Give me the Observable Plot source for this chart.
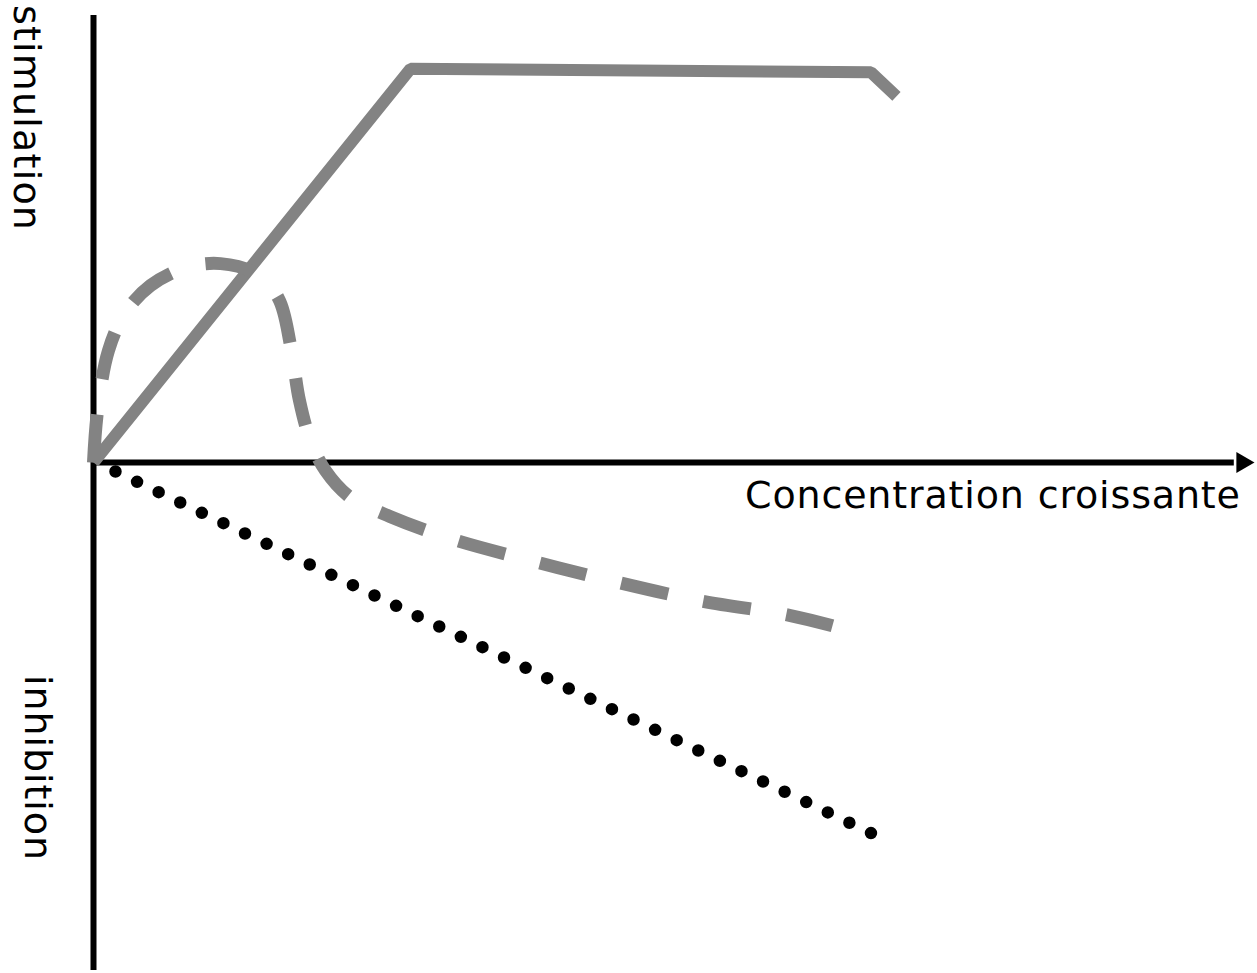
<!DOCTYPE html>
<html>
<head>
<meta charset="utf-8">
<script src="https://cdn.jsdelivr.net/npm/d3@7"></script>
<script src="https://cdn.jsdelivr.net/npm/@observablehq/plot@0.6"></script>
<style>
  html, body { margin: 0; padding: 0; background: #fff; }
  #chart svg { display: block; }
</style>
</head>
<body>
<div id="chart"></div>
<script>
// Concentration (x) vs response (y): positive = stimulation, negative = inhibition
const solidX = [0, 27.4, 67.2, 69.4];
const solidY = [0, 88.1, 87.3, 81.9];

const dashedX = [0, 0.35, 1.30, 2.77, 4.93, 7.95, 10.98, 14.00, 15.99, 17.03, 17.80, 18.76, 20.05, 22.21, 25.67, 30.86, 37.77, 44.68, 52.46, 60.24, 63.87];
const dashedY = [0, 11.6, 25.1, 33.6, 39.6, 43.6, 44.5, 42.3, 36.7, 26.2, 13.9, 4.9, -1.8, -7.8, -12.1, -17.0, -21.9, -26.4, -30.9, -34.2, -36.5];

const dottedX = [1.9, 67.3];
const dottedY = [-2.0, -83.0];

const yTopLabel = "stimulation";
const yBottomLabel = "inhibition";
const xLabel = "Concentration croissante";

const xDomain = [0, 100];
const yDomain = [-113.6, 100];

const solid = solidX.map((x, i) => ({x, y: solidY[i]}));
const dashed = dashedX.map((x, i) => ({x, y: dashedY[i]}));
const dotted = dottedX.map((x, i) => ({x, y: dottedY[i]}));

const labels = [
  {x: -5.8, y: 77.2, text: yTopLabel, rotate: 90, len: 225},
  {x: -4.9, y: -68.2, text: yBottomLabel, rotate: 90, len: 185},
  {x: 77.7, y: -7.4, text: xLabel, rotate: 0, len: 495}
];

const gray = "#838383";
const font = "'Comic Sans MS', 'DejaVu Sans', sans-serif";

const chart = Plot.plot({
  width: 1257,
  height: 973,
  x: {domain: xDomain, range: [93, 1250], axis: null},
  y: {domain: yDomain, range: [970, 15], axis: null},
  style: {fontFamily: font, background: "#fff"},
  marks: [
    Plot.ruleX([0], {y1: yDomain[0], y2: yDomain[1], stroke: "#000", strokeWidth: 6}),
    Plot.ruleY([0], {x1: 0, x2: 98.6, stroke: "#000", strokeWidth: 6}),
    Plot.dot([{x: 99.3, y: 0}], {x: "x", y: "y", symbol: "triangle2", r: 10, fill: "#000", stroke: null, rotate: 90}),
    Plot.line(solid, {x: "x", y: "y", stroke: gray, strokeWidth: 12, strokeLinejoin: "miter", strokeLinecap: "butt", className: "solid"}),
    Plot.line(dashed, {x: "x", y: "y", curve: "catmull-rom", stroke: gray, strokeWidth: 13, strokeLinecap: "butt", className: "dashed"}),
    Plot.line(dotted, {x: "x", y: "y", stroke: "#000", strokeWidth: 12.5, strokeDasharray: "0,23.93", strokeLinecap: "round"}),
    Plot.text(labels, {x: "x", y: "y", text: "text", rotate: "rotate", fontSize: 38, fill: "#000", textAnchor: "middle"})
  ]
});

document.getElementById("chart").appendChild(chart);

// dash pattern fitted so that both ends of the curve begin/end with a dash
const dashPath = chart.querySelector(".dashed path");
if (dashPath) {
  const L = dashPath.getTotalLength();
  const dash = 48, period0 = 84;
  const n = Math.max(1, Math.round((L - dash) / period0));
  const period = (L - dash) / n;
  dashPath.setAttribute("stroke-dasharray", `${dash},${period - dash}`);
}

// fit label lengths to the reference
d3.select(chart).selectAll("text").each(function() {
  const t = d3.select(this);
  const lab = labels.find(l => l.text === t.text());
  if (lab) t.attr("textLength", lab.len);
});
</script>
</body>
</html>
